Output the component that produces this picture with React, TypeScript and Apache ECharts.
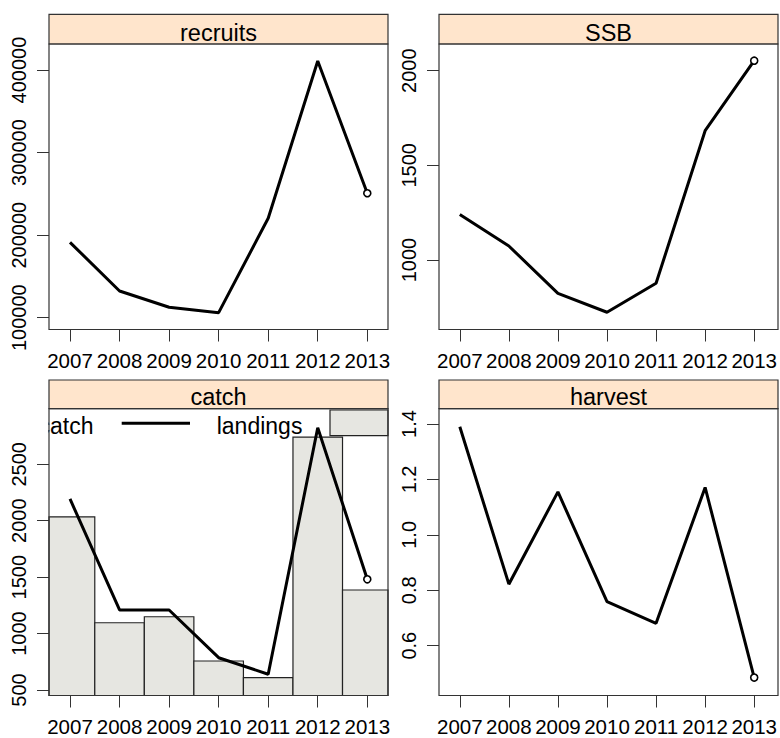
import React, { useEffect, useRef } from "react";
import * as echarts from "echarts";

const YEARS = [2007, 2008, 2009, 2010, 2011, 2012, 2013];
const RECRUITS = [191300, 132300, 112600, 106100, 220400, 410900, 250700];
const SSB = [1241, 1074, 824, 724, 877, 1683, 2053];
const LANDINGS = [2193, 1209, 1209, 786, 639, 2824, 1481];
const CATCH = [2035, 1096, 1149, 757, 609, 2741, 1386];
const HARVEST = [1.39, 0.822, 1.155, 0.759, 0.681, 1.171, 0.485];

const RECRUITS_TICKS = [100000, 200000, 300000, 400000];
const SSB_TICKS = [1000, 1500, 2000];
const CATCH_TICKS = [500, 1000, 1500, 2000, 2500];
const HARVEST_TICKS = [0.6, 0.8, 1.0, 1.2, 1.4];

const PANEL_TITLES = ["recruits", "SSB", "catch", "harvest"];
const LEGEND_LABELS = ["catch", "landings"];

const FONT = "'Liberation Sans', Arial, sans-serif";
const BAR_FILL = "#E6E6E1";
const FRAME = "#333333";

export default function App() {
  const ref = useRef<HTMLDivElement>(null);

  useEffect(() => {
    if (!ref.current) return;
    const chart = echarts.init(ref.current, undefined, { renderer: "svg" });

    const panels = [
      { left: 49, top: 44, width: 339, height: 285.5, stripTop: 14.3 },
      { left: 439, top: 44, width: 339, height: 285.5, stripTop: 14.3 },
      { left: 49, top: 408.7, width: 339, height: 286.8, stripTop: 380 },
      { left: 439, top: 408.7, width: 339, height: 286.8, stripTop: 380 },
    ];
    const yRanges = [
      { min: 85710, max: 431490, ticks: RECRUITS_TICKS, fmt: (v: number) => String(v) },
      { min: 633, max: 2141, ticks: SSB_TICKS, fmt: (v: number) => String(v) },
      { min: 451, max: 2993, ticks: CATCH_TICKS, fmt: (v: number) => String(v) },
      { min: 0.4203, max: 1.4552, ticks: HARVEST_TICKS, fmt: (v: number) => v.toFixed(1) },
    ];
    const X_MIN = 2006.576;
    const X_MAX = 2013.418;

    const grid = panels.map((p) => ({
      left: p.left,
      top: p.top,
      width: p.width,
      height: p.height,
      show: false,
    }));

    const xAxis = panels.map((_, i) => ({
      gridIndex: i,
      type: "value",
      min: X_MIN,
      max: X_MAX,
      axisLine: { show: false },
      splitLine: { show: false },
      axisTick: {
        show: true,
        length: 12,
        customValues: YEARS,
        lineStyle: { color: FRAME, width: 1 },
      },
      axisLabel: {
        customValues: YEARS,
        margin: 20,
        fontSize: 20.5,
        fontFamily: FONT,
        color: "#000",
        formatter: (v: number) => String(Math.round(v)),
      },
    }));

    const yAxis = yRanges.map((r, i) => ({
      gridIndex: i,
      type: "value",
      min: r.min,
      max: r.max,
      axisLine: { show: false },
      splitLine: { show: false },
      axisTick: {
        show: true,
        length: 12,
        customValues: r.ticks,
        lineStyle: { color: FRAME, width: 1 },
      },
      axisLabel: {
        customValues: r.ticks,
        rotate: 90,
        margin: 20,
        fontSize: 20,
        fontFamily: FONT,
        color: "#000",
        formatter: r.fmt,
      },
    }));

    const lineSeries = (i: number, vals: number[]) => ({
      type: "line",
      xAxisIndex: i,
      yAxisIndex: i,
      data: YEARS.map((y, k) => [y, vals[k]]),
      symbol: "none",
      lineStyle: { color: "#000", width: 3 },
      clip: true,
      z: 5,
    });
    const endPoint = (i: number, vals: number[]) => ({
      type: "scatter",
      xAxisIndex: i,
      yAxisIndex: i,
      data: [[YEARS[YEARS.length - 1], vals[vals.length - 1]]],
      symbol: "circle",
      symbolSize: 7,
      itemStyle: { color: "#ffffff", borderColor: "#000000", borderWidth: 1.6, opacity: 1 },
      clip: false,
      z: 6,
    });

    const catchMin = yRanges[2].min;
    const barSeries = {
      type: "custom",
      xAxisIndex: 2,
      yAxisIndex: 2,
      data: YEARS.map((y, k) => [y, CATCH[k]]),
      renderItem: (params: any, api: any) => {
        const x = api.value(0);
        const v = api.value(1);
        const p1 = api.coord([x - 0.5, v]);
        const p0 = api.coord([x + 0.5, catchMin]);
        const shape = echarts.graphic.clipRectByRect(
          { x: p1[0], y: p1[1], width: p0[0] - p1[0], height: p0[1] - p1[1] },
          params.coordSys
        );
        if (!shape) return null;
        return {
          type: "rect",
          shape,
          style: { fill: BAR_FILL, stroke: "#222", lineWidth: 1.2 },
        };
      },
      z: 3,
    };

    const graphics: any[] = [];
    panels.forEach((p, i) => {
      graphics.push({
        type: "rect",
        shape: { x: p.left, y: p.stripTop, width: p.width, height: p.top - p.stripTop },
        style: { fill: "#FFE5CC", stroke: FRAME, lineWidth: 1.2 },
        z: 100,
      });
      graphics.push({
        type: "text",
        x: p.left + p.width / 2,
        y: p.top - 11.5,
        style: {
          text: PANEL_TITLES[i],
          fontSize: 23.5,
          fontFamily: FONT,
          fill: "#000",
          align: "center",
          verticalAlign: "middle",
        },
        z: 101,
      });
    });

    // catch panel key
    graphics.push({
      type: "text",
      x: 93.5,
      y: 425.7,
      style: {
        text: LEGEND_LABELS[0],
        fontSize: 23,
        fontFamily: FONT,
        fill: "#000",
        align: "right",
        verticalAlign: "middle",
      },
      z: 40,
    });
    graphics.push({
      type: "rect",
      shape: { x: 28, y: 411, width: 20.4, height: 28 },
      style: { fill: "#fff" },
      z: 50,
    });
    graphics.push({
      type: "line",
      shape: { x1: 121.7, y1: 423.3, x2: 190, y2: 423.3 },
      style: { stroke: "#000", lineWidth: 3 },
      z: 40,
    });
    graphics.push({
      type: "text",
      x: 216.7,
      y: 425.7,
      style: {
        text: LEGEND_LABELS[1],
        fontSize: 23,
        fontFamily: FONT,
        fill: "#000",
        align: "left",
        verticalAlign: "middle",
      },
      z: 40,
    });
    graphics.push({
      type: "rect",
      shape: { x: 330, y: 410, width: 58, height: 25.7 },
      style: { fill: BAR_FILL, stroke: "#222", lineWidth: 1.2 },
      z: 45,
    });

    // panel frames
    panels.forEach((p) => {
      graphics.push({
        type: "rect",
        shape: { x: p.left, y: p.top, width: p.width, height: p.height },
        style: { fill: "none", stroke: FRAME, lineWidth: 1.2 },
        z: 100,
      });
    });

    chart.setOption({
      animation: false,
      backgroundColor: "#fff",
      grid,
      xAxis,
      yAxis,
      series: [
        lineSeries(0, RECRUITS),
        endPoint(0, RECRUITS),
        lineSeries(1, SSB),
        endPoint(1, SSB),
        barSeries,
        lineSeries(2, LANDINGS),
        endPoint(2, LANDINGS),
        lineSeries(3, HARVEST),
        endPoint(3, HARVEST),
      ],
      graphic: graphics,
    } as any);

    return () => chart.dispose();
  }, []);

  return (
    <div
      ref={ref}
      style={{ position: "absolute", left: 0, top: 0, width: 780, height: 738 }}
    />
  );
}
